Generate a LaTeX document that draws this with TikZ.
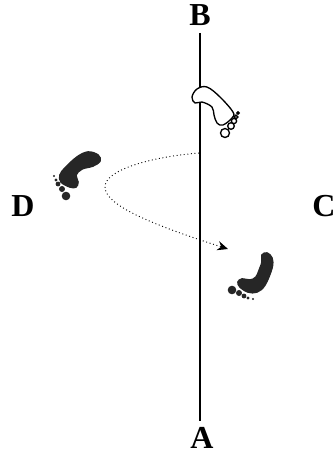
\documentclass[tikz,border=0pt]{standalone}
\usepackage{fontspec}
\setmainfont{Liberation Serif}
\usepackage{xcolor}
\usetikzlibrary{arrows.meta}
\definecolor{inkfoot}{HTML}{262626}
\tikzset{letter/.style={font=\fontsize{24}{24}\selectfont\bfseries,inner sep=5pt},
  axisline/.style={line width=1.9pt,draw=black},
  walkpath/.style={-{Stealth[length=8pt,width=7pt]},dotted,line width=0.7pt,draw=black},
  darkfoot/.style={draw=inkfoot,fill=inkfoot,line width=1.2pt},
  palefoot/.style={draw=black,fill=white,line width=1pt}}
\begin{document}
\begin{tikzpicture}[x=0.75pt,y=-0.75pt]
 \useasboundingbox (0,0) rectangle (336,455);
 \node[letter] (lblb) at (200,15.5) {B};
 \node[letter] (lbla) at (202,438) {A};
 \node[letter] (lbld) at (23,206) {D};
 \node[letter] (lblc) at (324,206) {C};
 \draw[axisline] (lblb.south)--(lblb.south |- lbla.north);
 \coordinate (pathstart) at (199,153);
 \coordinate (pathend) at (228,249);
 \draw[walkpath] (pathstart) .. controls (150,157) and (105,170) .. (105,187)
  .. controls (105,205) and (150,224) .. (pathend);
 \draw[palefoot] plot[smooth cycle,tension=0.6] coordinates {(192,97) (197,89) (207,87)
  (220,97) (233,112) (232,118) (223,125) (217,123) (214,115) (212,107) (202,102) (195,103)};
 \foreach \tx/\ty/\tr in {225/133/4.5,231/126/3.3,234/121/2.6,236/117/1.9,238/113/1.2}
  \draw[palefoot] (\tx,\ty) circle (\tr*0.75pt);
 \draw[darkfoot] plot[smooth cycle,tension=0.6] coordinates {(100,161) (98,155) (88,152)
  (77,157) (65,168) (60,175) (61,182) (70,187) (76,187) (78,182) (76,175) (82,169) (93,166)};
 \foreach \tx/\ty/\tr in {66/196/4.3,62/189/3,58/184/2.4,56/180/1.7,54/176/1.2}
  \fill[inkfoot] (\tx,\ty) circle (\tr*0.75pt);
 \draw[darkfoot] plot[smooth cycle,tension=0.6] coordinates {(262,255) (267,253) (272,258)
  (272,268) (265,285) (257,292) (248,292) (240,287) (238,282) (242,279) (250,280) (256,277)
  (260,268) (262,262)};
 \foreach \tx/\ty/\tr in {232/290/4.3,239/293/3,244/296/2.4,248/298/1.7,253/299/1.2}
  \fill[inkfoot] (\tx,\ty) circle (\tr*0.75pt);
\end{tikzpicture}
\end{document}
